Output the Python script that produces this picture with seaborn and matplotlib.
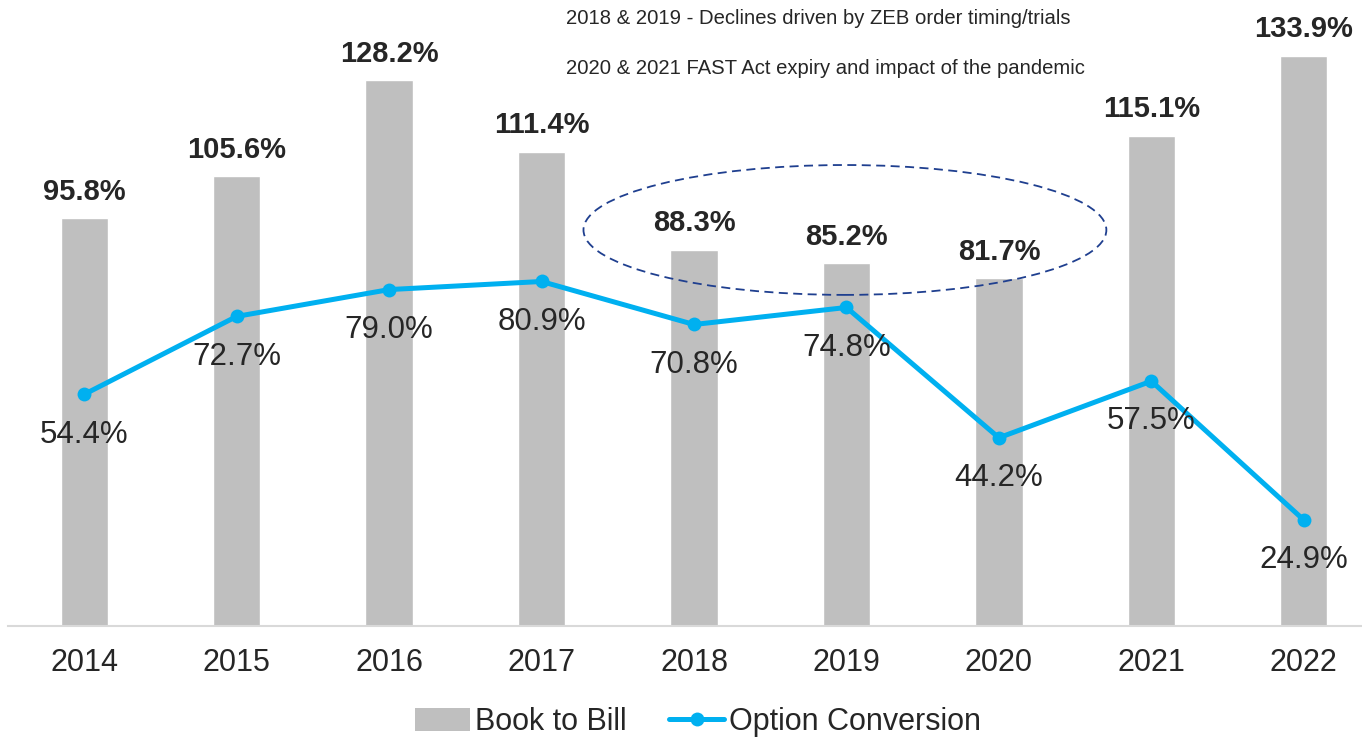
import numpy as np
import pandas as pd
import matplotlib
matplotlib.use("Agg")
import matplotlib.pyplot as plt
from matplotlib.patches import Ellipse, Patch
from matplotlib.lines import Line2D
import seaborn as sns

# data
years = ["2014", "2015", "2016", "2017", "2018", "2019", "2020", "2021", "2022"]
book_to_bill = [95.8, 105.6, 128.2, 111.4, 88.3, 85.2, 81.7, 115.1, 133.9]
option_conversion = [54.4, 72.7, 79.0, 80.9, 70.8, 74.8, 44.2, 57.5, 24.9]
notes = [
    "2018 & 2019 - Declines driven by ZEB order timing/trials",
    "2020 & 2021 FAST Act expiry and impact of the pandemic",
]

BAR_COLOR = "#BFBFBF"
LINE_COLOR = "#00B0F0"
TEXT_COLOR = "#262626"
OVAL_COLOR = "#1F3F8F"

sns.set_theme(style="white")
plt.rcParams["font.family"] = ["Liberation Sans", "DejaVu Sans"]

df = pd.DataFrame({"year": years, "book_to_bill": book_to_bill,
                   "option_conversion": option_conversion})
df["pos"] = np.arange(len(df))

fig = plt.figure(figsize=(13.62, 7.41), dpi=100)
ax = fig.add_axes([8 / 1362, 115 / 741, 1372 / 1362, 626 / 741])

sns.barplot(data=df, x="year", y="book_to_bill", color=BAR_COLOR,
            width=0.31, saturation=1, ax=ax)
sns.lineplot(data=df, x="pos", y="option_conversion", color=LINE_COLOR,
             linewidth=3.6, marker="o", markersize=10, markeredgewidth=0,
             ax=ax)

ax.set_xlim(-0.5, 8.5)
ax.set_ylim(0, 147)

# bar labels (bold, above)
for i, v in enumerate(book_to_bill):
    ax.annotate(f"{v:.1f}%", (i, v), xytext=(0, 9), textcoords="offset points",
                ha="center", va="bottom", fontsize=21, fontweight="bold",
                color=TEXT_COLOR)

# line labels (regular, below the point)
for i, v in enumerate(option_conversion):
    ax.annotate(f"{v:.1f}%", (i, v), xytext=(0, -29), textcoords="offset points",
                ha="center", va="center", fontsize=22.5, color=TEXT_COLOR)

# dashed oval around 2018-2020
oval = Ellipse((4.99, 93), width=3.43, height=30.5, fill=False,
               edgecolor=OVAL_COLOR, linewidth=1.3, linestyle=(0, (5, 3)))
ax.add_patch(oval)

ax.set_xlabel("")
ax.set_ylabel("")
ax.set_yticks([])
ax.tick_params(axis="x", length=0, pad=16, labelsize=22, labelcolor=TEXT_COLOR)
for side in ["top", "right", "left"]:
    ax.spines[side].set_visible(False)
ax.spines["bottom"].set_color("#D9D9D9")
ax.spines["bottom"].set_linewidth(1.5)

fig.text(566 / 1362, 1 - 18 / 741, notes[0], fontsize=14.6, color=TEXT_COLOR,
         ha="left", va="center")
fig.text(566 / 1362, 1 - 68 / 741, notes[1], fontsize=14.6, color=TEXT_COLOR,
         ha="left", va="center")

handles = [
    Patch(facecolor=BAR_COLOR, edgecolor="none", label="Book to Bill"),
    Line2D([], [], color=LINE_COLOR, linewidth=3.6, marker="o", markersize=10,
           markeredgewidth=0, label="Option Conversion"),
]
fig.legend(handles=handles, loc="center", bbox_to_anchor=(698 / 1362, 1 - 722 / 741),
           ncol=2, frameon=False, fontsize=22, handlelength=1.8, handleheight=0.8,
           handletextpad=0.15, columnspacing=1.4, labelcolor=TEXT_COLOR)

fig.savefig("out.png", dpi=100)
